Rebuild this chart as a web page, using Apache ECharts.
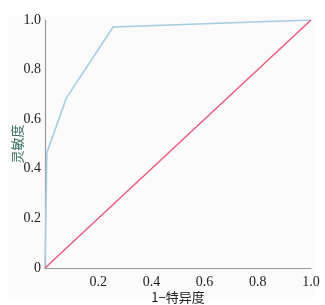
<!DOCTYPE html>
<html><head><meta charset="utf-8">
<script src="https://cdn.jsdelivr.net/npm/echarts@6/dist/echarts.min.js"></script>
<style>html,body{margin:0;padding:0;background:#fff}#c{width:325px;height:305px}</style>
</head><body><div id="c"></div>
<script>
const rocX = [0, 0.007, 0.08, 0.256, 1.0];
const rocY = [0, 0.465, 0.685, 0.972, 1.0];
const refX = [0, 1];
const refY = [0, 1];
const ticks = [0, 0.2, 0.4, 0.6, 0.8, 1.0];
const xName = '1\u2212特异度';
const yName = '灵敏度';

const chart = echarts.init(document.getElementById('c'));
const fmt = v => v === 0 ? '0' : v.toFixed(1);
const serif = 'Liberation Serif';
chart.setOption({
  animation: false,
  graphic: [{type:'rect', shape:{x:8,y:16,width:308,height:281}, style:{fill:'#fbfbfb'}, z:-10, silent:true}],
  grid: {left:45, right:14, top:20, bottom:37, outerBoundsMode:'none', containLabel:false},
  xAxis: {type:'value', min:0, max:1, interval:0.2, name:xName, nameLocation:'middle', nameGap:29, nameMoveOverlap:false,
    nameTextStyle:{color:'#222', fontSize:13, fontFamily:'Noto Sans CJK SC', verticalAlign:'middle', padding:0},
    axisLine:{lineStyle:{color:'#999', width:1.2}}, axisTick:{show:false}, splitLine:{show:false},
    axisLabel:{formatter: v => v===0 ? '' : fmt(v), color:'#222', fontSize:14, fontFamily:serif, margin:7}},
  yAxis: {type:'value', min:0, max:1, interval:0.2, name:yName, nameLocation:'middle', nameGap:28, nameRotate:90, nameMoveOverlap:false,
    nameTextStyle:{color:'#3b6e62', fontSize:13, fontFamily:'Noto Sans CJK SC', verticalAlign:'middle', padding:0},
    axisLine:{show:true, lineStyle:{color:'#999', width:1.2}}, axisTick:{show:false}, splitLine:{show:false},
    axisLabel:{formatter: fmt, color:'#222', fontSize:14, fontFamily:serif, margin:4}},
  series: [
    {type:'line', data: rocX.map((x,i)=>[x, rocY[i]]), symbol:'none', lineStyle:{color:'#a6cde3', width:1.6}},
    {type:'line', data: refX.map((x,i)=>[x, refY[i]]), symbol:'none', lineStyle:{color:'#e8587a', width:1.4}}
  ]
});
</script></body></html>
